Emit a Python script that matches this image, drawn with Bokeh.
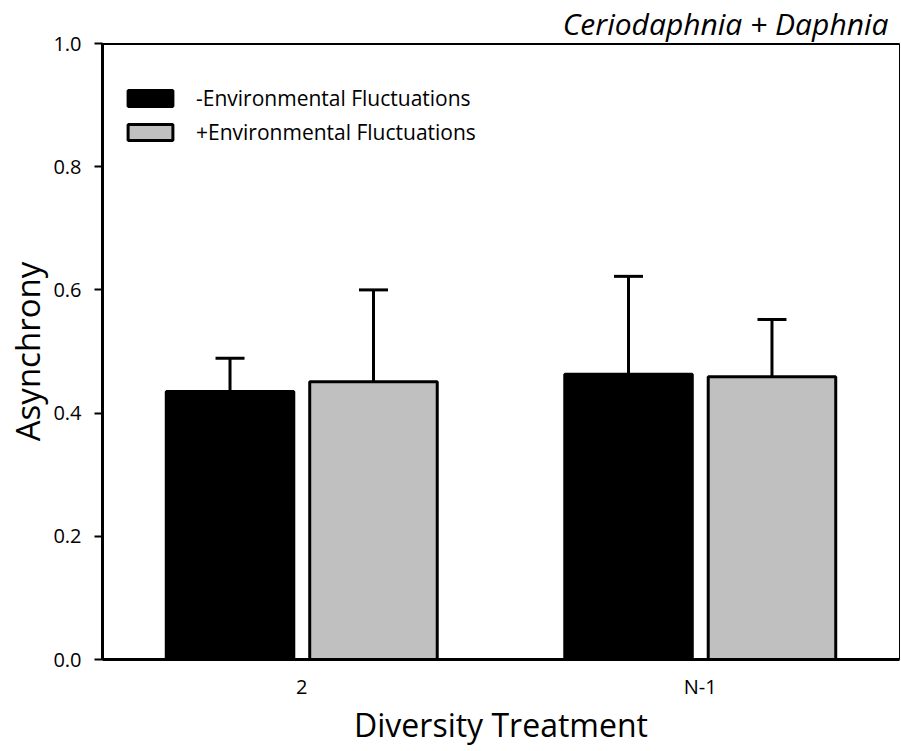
from bokeh.plotting import figure
from bokeh.models import (ColumnDataSource, FactorRange, Range1d, Whisker, TeeHead, Span,
                          Legend, LegendItem, FixedTicker, PrintfTickFormatter)
from bokeh.transform import dodge
from bokeh.embed import file_html
from bokeh.resources import INLINE

categories = ["2", "N-1"]
minus_mean = [0.435, 0.463]
minus_err = [0.054, 0.159]
plus_mean = [0.451, 0.459]
plus_err = [0.149, 0.093]
y_ticks = [0.0, 0.2, 0.4, 0.6, 0.8, 1.0]

FONT = "Open Sans"

src = ColumnDataSource(data=dict(
    cat=categories,
    minus=minus_mean,
    minus_up=[m + e for m, e in zip(minus_mean, minus_err)],
    plus=plus_mean,
    plus_up=[m + e for m, e in zip(plus_mean, plus_err)],
))

p = figure(frame_width=797, frame_height=616, x_range=FactorRange(*categories, range_padding=0),
           y_range=Range1d(0, 1), output_backend="svg", toolbar_location=None,
           min_border_left=102, min_border_right=1, min_border_top=43, min_border_bottom=0)

p.title.text = "Ceriodaphnia + Daphnia"
p.title.text_font = FONT
p.title.text_font_style = "italic"
p.title.text_font_size = "30px"
p.title.align = "right"
p.title.text_color = "black"
p.title.standoff = 0
p.title.offset = 11

r1 = p.vbar(x=dodge("cat", -0.18, range=p.x_range), top="minus", width=0.32, source=src,
            fill_color="black", line_color="black", line_width=3)
r2 = p.vbar(x=dodge("cat", 0.18, range=p.x_range), top="plus", width=0.32, source=src,
            fill_color="#c0c0c0", line_color="black", line_width=3)

for off, lo, up in [(-0.18, "minus", "minus_up"), (0.18, "plus", "plus_up")]:
    w = Whisker(base=dodge("cat", off, range=p.x_range), lower=lo, upper=up, source=src,
                line_color="black", line_width=3,
                upper_head=TeeHead(size=29, line_color="black", line_width=3),
                lower_head=None, level="overlay")
    p.add_layout(w)

p.add_layout(Span(location=1.0, dimension="width", line_color="black", line_width=3))

legend = Legend(items=[LegendItem(label="-Environmental Fluctuations", renderers=[r1]),
                       LegendItem(label="+Environmental Fluctuations", renderers=[r2])],
                location=(20, 513), margin=0, padding=10, spacing=6,
                glyph_width=56, glyph_height=20, label_height=20, label_standoff=18,
                label_text_font=FONT, label_text_font_size="21px", label_text_color="black",
                border_line_color=None, background_fill_alpha=0)
p.add_layout(legend)

p.grid.visible = False
p.outline_line_color = "black"
p.outline_line_width = 1

p.yaxis.ticker = FixedTicker(ticks=y_ticks)
p.yaxis.formatter = PrintfTickFormatter(format="%.1f")
p.yaxis.axis_line_width = 3
p.yaxis.major_tick_line_width = 2
p.yaxis.major_tick_out = 8
p.yaxis.major_tick_in = 0
p.yaxis.minor_tick_line_color = None
p.yaxis.major_label_text_font = FONT
p.yaxis.major_label_text_font_size = "20px"
p.yaxis.major_label_text_color = "black"
p.yaxis.major_label_standoff = 13
p.yaxis.axis_label = "Asynchrony"
p.yaxis.axis_label_text_font = FONT
p.yaxis.axis_label_text_font_size = "33px"
p.yaxis.axis_label_text_font_style = "normal"
p.yaxis.axis_label_text_color = "black"
p.yaxis.axis_label_standoff = 0

p.xaxis.axis_line_width = 3
p.xaxis.major_tick_line_color = None
p.xaxis.major_tick_out = 0
p.xaxis.major_tick_in = 0
p.xaxis.minor_tick_line_color = None
p.xaxis.major_label_text_font = FONT
p.xaxis.major_label_text_font_size = "20px"
p.xaxis.major_label_text_color = "black"
p.xaxis.major_label_standoff = 13
p.xaxis.axis_label = "Diversity Treatment"
p.xaxis.axis_label_text_font = FONT
p.xaxis.axis_label_text_font_size = "32px"
p.xaxis.axis_label_text_font_style = "normal"
p.xaxis.axis_label_text_color = "black"
p.xaxis.axis_label_standoff = 0

open("out.html", "w").write(file_html(p, INLINE))
